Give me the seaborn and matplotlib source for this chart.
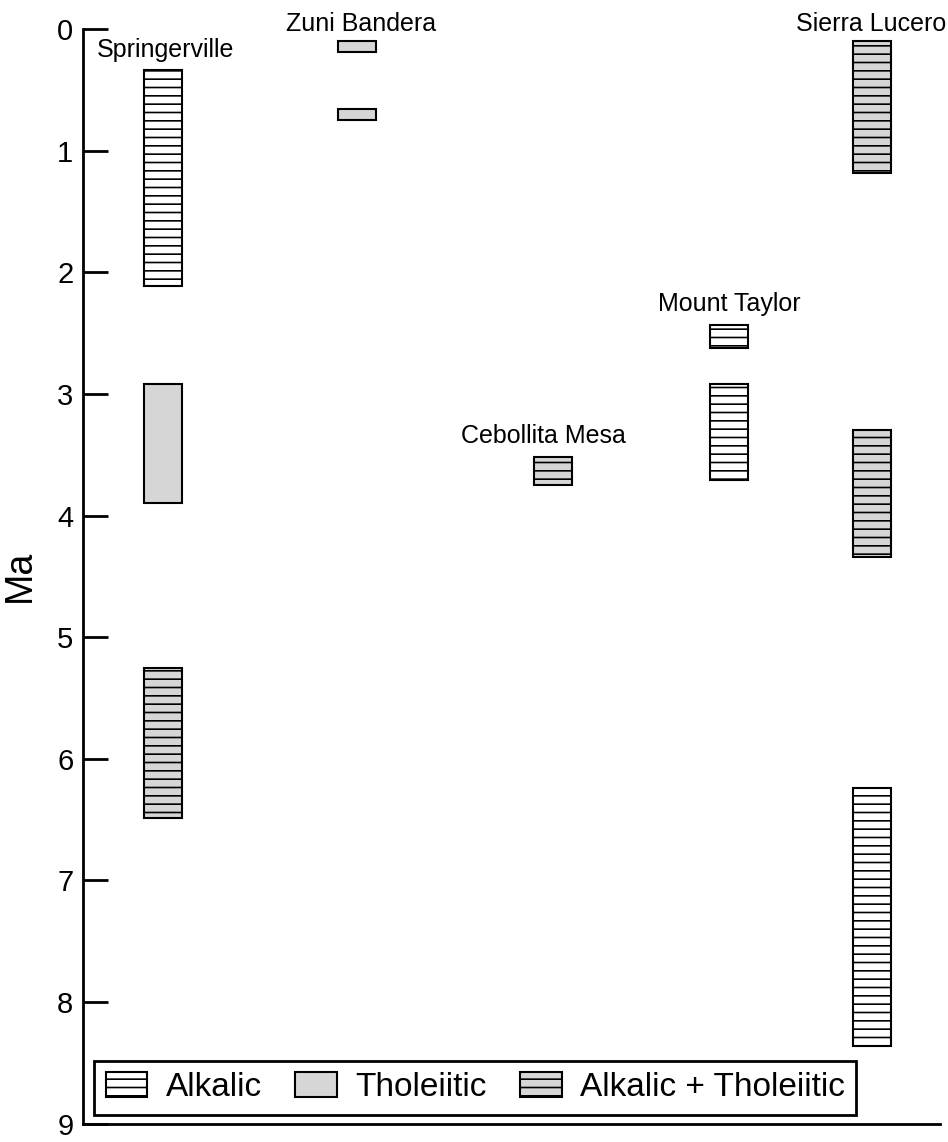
import matplotlib
matplotlib.use("Agg")
import matplotlib.pyplot as plt
from matplotlib.patches import Patch
import pandas as pd
import seaborn as sns

# volcanic field names and the age ranges (Ma) of each dated interval
sites = ["Springerville", "Zuni Bandera", "Cebollita Mesa", "Mount Taylor", "Sierra Lucero"]
bar_site = ["Springerville", "Springerville", "Springerville",
            "Zuni Bandera", "Zuni Bandera",
            "Cebollita Mesa",
            "Mount Taylor", "Mount Taylor",
            "Sierra Lucero", "Sierra Lucero", "Sierra Lucero"]
bar_start = [0.34, 2.92, 5.25, 0.10, 0.66, 3.52, 2.43, 2.92, 0.10, 3.30, 6.24]
bar_end = [2.11, 3.90, 6.49, 0.19, 0.75, 3.75, 2.62, 3.71, 1.18, 4.34, 8.36]
bar_type = ["Alkalic", "Tholeiitic", "Alkalic + Tholeiitic",
            "Tholeiitic", "Tholeiitic",
            "Alkalic + Tholeiitic",
            "Alkalic", "Alkalic",
            "Alkalic + Tholeiitic", "Alkalic + Tholeiitic", "Alkalic"]
types = ["Alkalic", "Tholeiitic", "Alkalic + Tholeiitic"]
y_ticks = [0, 1, 2, 3, 4, 5, 6, 7, 8, 9]

df = pd.DataFrame({"site": bar_site, "start": bar_start, "end": bar_end, "type": bar_type})
df["span"] = df["end"] - df["start"]

# layout: column centres and label anchors on a 0-100 horizontal scale
col_x = {"Springerville": 9.3, "Zuni Bandera": 32.0, "Cebollita Mesa": 54.8,
         "Mount Taylor": 75.4, "Sierra Lucero": 92.1}
label_pos = {"Springerville": (9.6, 0.23, "center"), "Zuni Bandera": (32.4, 0.02, "center"),
             "Cebollita Mesa": (53.7, 3.40, "center"), "Mount Taylor": (75.4, 2.32, "center"),
             "Sierra Lucero": (100.7, 0.02, "right")}
grey = "#d6d6d6"
styles = {"Alkalic": dict(facecolor="white", hatch="--"),
          "Tholeiitic": dict(facecolor=grey, hatch=None),
          "Alkalic + Tholeiitic": dict(facecolor=grey, hatch="--")}

sns.set_theme(style="ticks", rc={"text.color": "black", "axes.labelcolor": "black",
                                 "xtick.color": "black", "ytick.color": "black"})
plt.rcParams["font.family"] = ["Liberation Sans", "DejaVu Sans"]
plt.rcParams["hatch.linewidth"] = 1.2
plt.rcParams["hatch.color"] = "black"

fig = plt.figure(figsize=(9.48, 11.42), dpi=100)
ax = fig.add_axes([0.0876, 0.016, 0.904, 0.9586])

for _, row in df.iterrows():
    st = styles[row["type"]]
    ax.bar(col_x[row["site"]], row["span"], bottom=row["start"], width=4.4,
           facecolor=st["facecolor"], hatch=st["hatch"], edgecolor="black",
           linewidth=1.5, zorder=3)

for s in sites:
    x, y, ha = label_pos[s]
    ax.text(x, y, s, ha=ha, va="baseline", fontsize=18, clip_on=False)

ax.set_xlim(0, 100)
ax.set_ylim(9, 0)
ax.set_yticks(y_ticks)
ax.set_xticks([])
ax.tick_params(axis="y", direction="in", length=18, width=2, pad=7, labelsize=21)
ax.set_ylabel("Ma", fontsize=27, labelpad=14)
sns.despine(ax=ax, top=True, right=True)
for side in ["left", "bottom"]:
    ax.spines[side].set_linewidth(2)
    ax.spines[side].set_color("black")

handles = [Patch(facecolor=styles[t]["facecolor"], hatch=styles[t]["hatch"],
                 edgecolor="black", linewidth=1.5, label=t) for t in types]
leg = ax.legend(handles=handles, loc="lower left", bbox_to_anchor=(0.0128, 0.008),
                borderaxespad=0, ncol=3, fontsize=24, frameon=True, fancybox=False,
                handlelength=1.25, handleheight=0.75, columnspacing=1.0,
                handletextpad=0.55, borderpad=0.35)
leg.get_frame().set_edgecolor("black")
leg.get_frame().set_linewidth(2)
leg.get_frame().set_alpha(1)

fig.savefig("out.png", dpi=100)
